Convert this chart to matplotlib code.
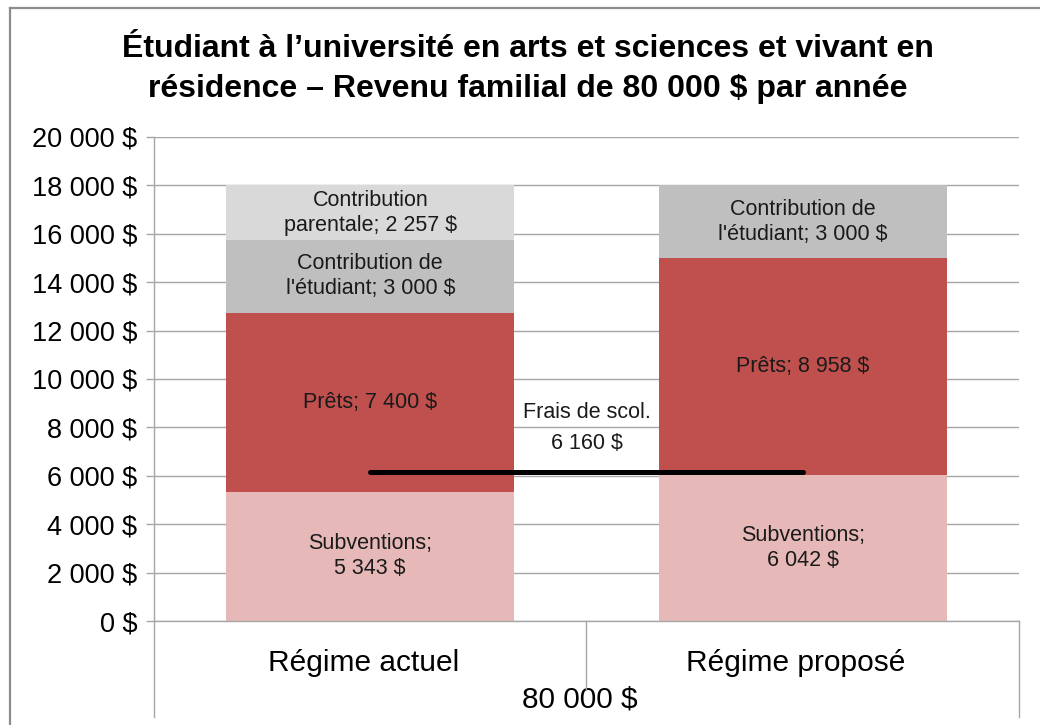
import matplotlib
matplotlib.use("Agg")
import matplotlib.pyplot as plt
import matplotlib.transforms as mtransforms
from matplotlib.lines import Line2D

plt.rcParams['font.family'] = ['Liberation Sans', 'DejaVu Sans']

# Données
regimes = ["Régime actuel", "Régime proposé"]
revenu_label = "80 000 $"
subventions = [5343, 6042]
prets = [7400, 8958]
contrib_etudiant = [3000, 3000]
contrib_parentale = [2257, 0]
frais_scolarite = 6160

titre = ("Étudiant à l’université en arts et sciences et vivant en\n"
         "résidence – Revenu familial de 80 000 $ par année")

series = [
    ("Subventions", subventions, "#E6B9B8"),
    ("Prêts", prets, "#C0504D"),
    ("Contribution de l'étudiant", contrib_etudiant, "#BFBFBF"),
    ("Contribution parentale", contrib_parentale, "#D9D9D9"),
]

label_txt = {
    "Subventions": "Subventions;\n{}",
    "Prêts": "Prêts; {}",
    "Contribution de l'étudiant": "Contribution de\nl'étudiant; {}",
    "Contribution parentale": "Contribution\nparentale; {}",
}


def fmt(v):
    return f"{v:,.0f} $".replace(",", " ")


W, H = 1040, 725
fig = plt.figure(figsize=(W / 100, H / 100), dpi=100)
ax = fig.add_axes([154 / W, 1 - 621 / H, (1019 - 154) / W, (621 - 137) / H])

x = list(range(len(regimes)))
bottom = [0, 0]
for name, vals, col in series:
    ax.bar(x, vals, width=0.667, bottom=bottom, color=col, zorder=2)
    for i, v in enumerate(vals):
        if v > 0:
            ax.text(i, bottom[i] + v / 2, label_txt[name].format(fmt(v)),
                    ha="center", va="center", fontsize=15.5, color="#1a1a1a",
                    linespacing=1.25, zorder=3)
    bottom = [b + v for b, v in zip(bottom, vals)]

# ligne des frais de scolarité
ax.plot([x[0], x[1]], [frais_scolarite, frais_scolarite], color="black",
        lw=3.6, solid_capstyle="round", zorder=4)
ax.text(0.5, 8600, "Frais de scol.", ha="center", va="center",
        fontsize=15.5, color="#1a1a1a", zorder=3)
ax.text(0.5, 7320, fmt(frais_scolarite), ha="center", va="center",
        fontsize=15.5, color="#1a1a1a", zorder=3)

ax.set_xlim(-0.5, 1.5)
ax.set_ylim(0, 20000)
ax.set_yticks(range(0, 20001, 2000))
ax.set_yticklabels([fmt(v) for v in range(0, 20001, 2000)], fontsize=19.5)
ax.yaxis.grid(True, color="#A6A6A6", lw=1.0, zorder=0)
ax.tick_params(axis="y", length=6, color="#A6A6A6", width=1.0, pad=6)
ax.set_xticks(x)
ax.set_xticklabels(regimes, fontsize=21.5)
ax.tick_params(axis="x", length=0, pad=20)

# léger décalage à gauche des étiquettes de catégories
decal = mtransforms.ScaledTranslation(-7 / 100, 0, fig.dpi_scale_trans)
for lab in ax.get_xticklabels():
    lab.set_transform(lab.get_transform() + decal)

for s in ["top", "right"]:
    ax.spines[s].set_visible(False)
for s in ["left", "bottom"]:
    ax.spines[s].set_color("#A6A6A6")
    ax.spines[s].set_linewidth(1.0)

trans = mtransforms.blended_transform_factory(ax.transData, ax.transAxes)
ax.text(0.5, -0.162, revenu_label, transform=trans + decal, ha="center",
        va="center", fontsize=21.5)

# séparateurs de l'axe des catégories
def vline_px(xp, y0, y1):
    fig.add_artist(Line2D([xp / W, xp / W], [1 - y0 / H, 1 - y1 / H],
                          transform=fig.transFigure, color="#A6A6A6", lw=1.0))

vline_px(154, 621, 717)
vline_px(586, 621, 690)
vline_px(1019, 621, 717)

# cadre du graphique
fig.add_artist(Line2D([10 / W, 10 / W], [0, 1 - 8 / H], transform=fig.transFigure,
                      color="#8C8C8C", lw=1.6))
fig.add_artist(Line2D([10 / W, 1], [1 - 8 / H, 1 - 8 / H], transform=fig.transFigure,
                      color="#8C8C8C", lw=1.6))

fig.text(528 / W, 1 - 69 / H, titre, ha="center", va="center", fontsize=23,
         fontweight="bold", linespacing=1.4)

fig.savefig("out.png", dpi=100)
